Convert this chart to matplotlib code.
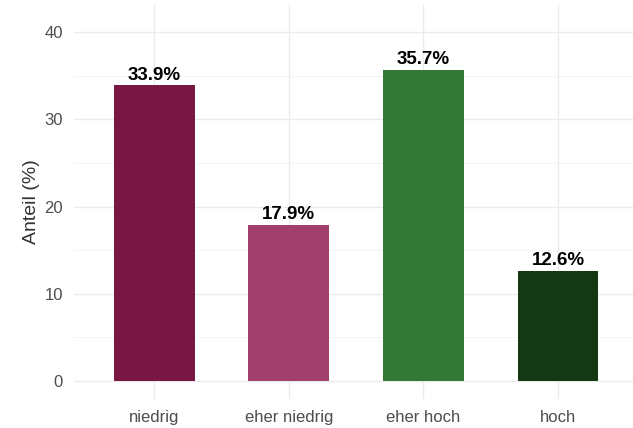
import numpy as np
import matplotlib.pyplot as plt

plt.rcParams['font.family'] = ['Liberation Sans', 'DejaVu Sans']

categories = ["niedrig", "eher niedrig", "eher hoch", "hoch"]
values = [33.9, 17.9, 35.7, 12.6]
colors = ["#781842", "#A23F6C", "#337835", "#133813"]

fig = plt.figure(figsize=(6.33, 4.28), dpi=100)
ax = fig.add_axes([0.117, 0.068, 0.883, 0.92])

x = np.arange(len(categories))
ax.bar(x, values, width=0.6, color=colors, zorder=3)

for xi, v in zip(x, values):
    ax.text(xi, v + 0.2, f"{v:.1f}%", ha="center", va="bottom",
            fontsize=13.5, fontweight="bold", color="black", zorder=4)

ax.set_xlim(-0.595, 3.557)
ax.set_ylim(-2.05, 43.1)
ax.set_yticks([0, 10, 20, 30, 40])
ax.set_yticks([5, 15, 25, 35], minor=True)
ax.set_xticks(x)
ax.set_xticklabels(categories)

ax.grid(which="major", color="#EBEBEB", linewidth=1.0, zorder=0)
ax.grid(which="minor", axis="y", color="#F2F2F2", linewidth=0.6, zorder=0)
for s in ax.spines.values():
    s.set_visible(False)
ax.tick_params(which="both", length=0)
ax.tick_params(axis="both", labelsize=12, labelcolor="#4D4D4D", pad=8)
ax.tick_params(axis="y", pad=8)

ax.set_ylabel("Anteil (%)", fontsize=14, color="#333333", labelpad=3)

fig.savefig("out.png", dpi=100)
